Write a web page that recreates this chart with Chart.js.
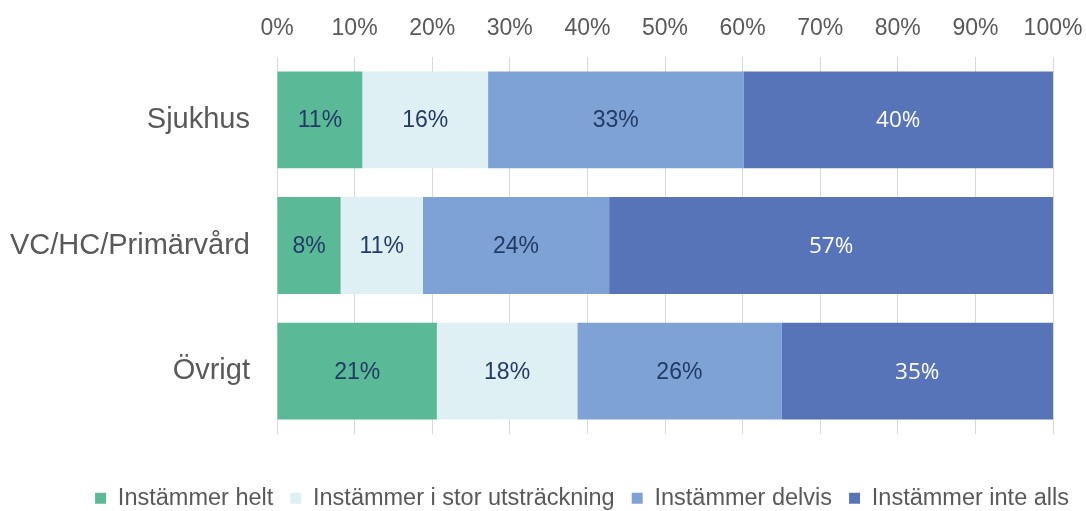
<!DOCTYPE html>
<html>
<head>
<meta charset="utf-8">
<script src="https://cdn.jsdelivr.net/npm/chart.js@4"></script>
<style>
  html, body { margin: 0; padding: 0; background: #ffffff; }
  #wrap { width: 1086px; height: 511px; }
</style>
</head>
<body>
<div id="wrap"><canvas id="c" width="1086" height="511"></canvas></div>
<script>
const categories = ['Sjukhus', 'VC/HC/Primärvård', 'Övrigt'];
const seriesNames = ['Instämmer helt', 'Instämmer i stor utsträckning', 'Instämmer delvis', 'Instämmer inte alls'];
const helt = [11.0, 8.2, 20.6];
const storUtstrackning = [16.2, 10.6, 18.1];
const delvis = [32.9, 24.0, 26.3];
const inteAlls = [39.9, 57.2, 35.0];
const xTicks = [0, 10, 20, 30, 40, 50, 60, 70, 80, 90, 100];

const colors = ['#5AB997', '#DFF0F4', '#7EA2D4', '#5874B8'];
const labelColors = ['#233A66', '#233A66', '#233A66', '#FFFFFF'];
const labelFonts = ['23px "Liberation Sans", Arial, sans-serif', '23px "Liberation Sans", Arial, sans-serif', '23px "Liberation Sans", Arial, sans-serif', '22.5px "Open Sans", sans-serif'];

const seriesValues = [helt, storUtstrackning, delvis, inteAlls];

const dataLabelPlugin = {
  id: 'dataLabels',
  afterDatasetsDraw(chart) {
    const ctx = chart.ctx;
    chart.data.datasets.forEach((ds, i) => {
      const meta = chart.getDatasetMeta(i);
      meta.data.forEach((bar, j) => {
        const p = bar.getProps(['x', 'y', 'base'], true);
        const cx = (p.x + p.base) / 2;
        ctx.save();
        ctx.font = labelFonts[i];
        ctx.fillStyle = labelColors[i];
        ctx.textAlign = 'center';
        ctx.textBaseline = 'middle';
        ctx.fillText(Math.round(ds.data[j]) + '%', cx, p.y + 1);
        ctx.restore();
      });
    });
  }
};

new Chart(document.getElementById('c'), {
  type: 'bar',
  data: {
    labels: categories,
    datasets: seriesNames.map((name, i) => ({
      label: name,
      data: seriesValues[i],
      backgroundColor: colors[i],
      borderWidth: 0,
      categoryPercentage: 1.0,
      barPercentage: 0.77
    }))
  },
  options: {
    indexAxis: 'y',
    responsive: false,
    animation: false,
    layout: { padding: { left: 0, right: 0, top: 0, bottom: -9 } },
    scales: {
      x: {
        position: 'top',
        stacked: true,
        min: 0,
        max: 100,
        afterBuildTicks(scale) { scale.ticks = xTicks.map(v => ({ value: v })); },
        afterFit(scale) { scale.height = 57; scale.paddingLeft = 0; scale.paddingRight = 33; },
        grid: { color: '#D9D9D9', lineWidth: 1, drawTicks: false },
        border: { display: false },
        ticks: {
          padding: 15,
          color: '#595959',
          font: { family: '"Liberation Sans", Arial, sans-serif', size: 23 },
          callback: v => v + '%'
        }
      },
      y: {
        stacked: true,
        afterFit(scale) { scale.width = 277; },
        grid: { display: false },
        border: { display: false },
        ticks: {
          padding: 19,
          color: '#595959',
          font: { family: '"Liberation Sans", Arial, sans-serif', size: 29 }
        }
      }
    },
    plugins: {
      tooltip: { enabled: false },
      legend: {
        position: 'bottom',
        align: 'end',
        title: { display: true, text: '', padding: 0, font: { size: 35.5, lineHeight: 1 } },
        labels: {
          boxWidth: 11,
          boxHeight: 11,
          padding: 17,
          color: '#595959',
          font: { family: '"Liberation Sans", Arial, sans-serif', size: 23.5 }
        }
      }
    }
  },
  plugins: [dataLabelPlugin]
});
</script>
</body>
</html>
